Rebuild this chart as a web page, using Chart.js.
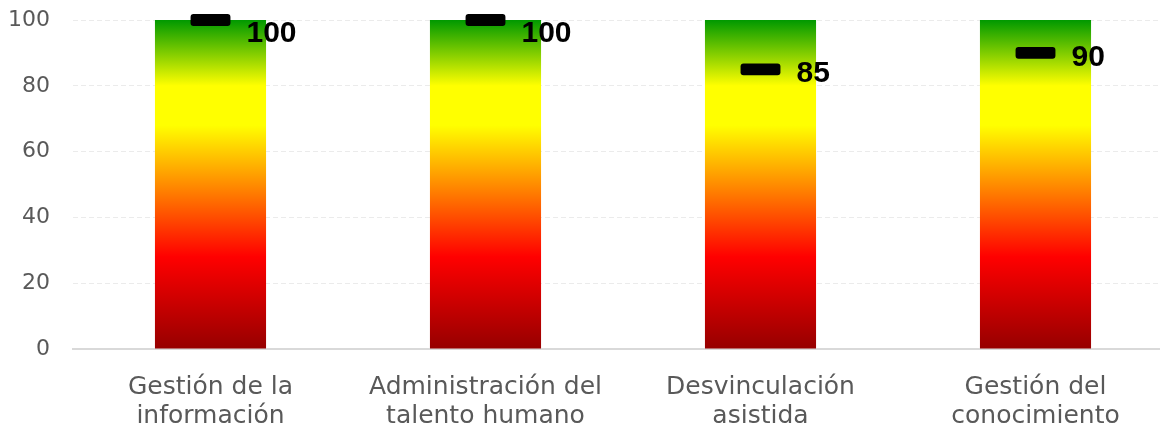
<!DOCTYPE html>
<html>
<head>
<meta charset="utf-8">
<script src="https://cdn.jsdelivr.net/npm/chart.js@4.4.1/dist/chart.umd.min.js"></script>
<style>
    body { margin: 0; background: #fff; overflow: hidden; }
    #wrap { width: 1173px; height: 432px; }
</style>
</head>
<body>
<div id="wrap"><canvas id="chart"></canvas></div>
<script>
// --- Data ---
const categories = [
    ['Gestión de la', 'información'],
    ['Administración del', 'talento humano'],
    ['Desvinculación', 'asistida'],
    ['Gestión del', 'conocimiento']
];
const scaleTop = [100, 100, 100, 100];   // full-height gradient bars
const scores = [100, 100, 85, 90];        // black marker values
const yTicks = [0, 20, 40, 60, 80, 100];
const markerHalf = 1.8;                   // half height of the marker, in axis units

// Gradient from dark red (bottom) to green (top)
const gradientFill = (context) => {
    const area = context.chart.chartArea;
    if (!area) return '#ff0000';
    const g = context.chart.ctx.createLinearGradient(0, area.bottom, 0, area.top);
    g.addColorStop(0, '#960000');
    g.addColorStop(0.28, '#ff0000');
    g.addColorStop(0.68, '#ffff00');
    g.addColorStop(0.8, '#ffff00');
    g.addColorStop(1, '#009900');
    return g;
};

// Draws the bold value next to each marker
const valueLabels = {
    id: 'valueLabels',
    afterDatasetsDraw(chart) {
        const ctx = chart.ctx;
        const meta = chart.getDatasetMeta(1);
        const y = chart.scales.y;
        ctx.save();
        ctx.font = 'bold 30px "Liberation Sans", Arial, sans-serif';
        ctx.fillStyle = '#000';
        ctx.textAlign = 'left';
        ctx.textBaseline = 'alphabetic';
        meta.data.forEach((bar, i) => {
            const py = y.getPixelForValue(scores[i]);
            const base = Math.max(py + 13, chart.chartArea.top + 22);
            ctx.fillText(String(scores[i]), bar.x + 36, base);
        });
        ctx.restore();
    }
};

new Chart(document.getElementById('chart'), {
    type: 'bar',
    data: {
        labels: categories,
        datasets: [
            {
                data: scaleTop,
                backgroundColor: gradientFill,
                barPercentage: 0.404,
                categoryPercentage: 1,
                grouped: false,
                order: 2
            },
            {
                data: scores.map(v => [v - markerHalf, v + markerHalf]),
                backgroundColor: '#000',
                barPercentage: 0.145,
                categoryPercentage: 1,
                borderRadius: 3,
                borderSkipped: false,
                grouped: false,
                clip: false,
                order: 1
            }
        ]
    },
    options: {
        responsive: true,
        maintainAspectRatio: false,
        animation: false,
        layout: { padding: { top: 20, right: 0, bottom: 0, left: 0 } },
        plugins: {
            legend: { display: false },
            tooltip: { enabled: false }
        },
        scales: {
            x: {
                grid: { display: false },
                border: { display: true, color: '#d9d9d9', width: 2 },
                ticks: {
                    color: '#595959',
                    padding: 16,
                    maxRotation: 0,
                    font: { family: '"DejaVu Sans", sans-serif', size: 25, lineHeight: 1.15 }
                },
                afterFit: (s) => { s.height = 83; }
            },
            y: {
                min: 0,
                max: 100,
                afterBuildTicks: (s) => { s.ticks = yTicks.map(v => ({ value: v })); },
                grid: {
                    drawTicks: false,
                    color: (c) => c.tick && c.tick.value === 0 ? 'rgba(0,0,0,0)' : '#ebebeb'
                },
                border: { display: false, dash: [5, 3] },
                ticks: {
                    color: '#595959',
                    padding: 23,
                    font: { family: '"DejaVu Sans", sans-serif', size: 22 }
                },
                afterFit: (s) => {
                    s.width = 73;
                    s.paddingTop = 0;
                    s.paddingBottom = 0;
                }
            }
        }
    },
    plugins: [valueLabels]
});
</script>
</body>
</html>
